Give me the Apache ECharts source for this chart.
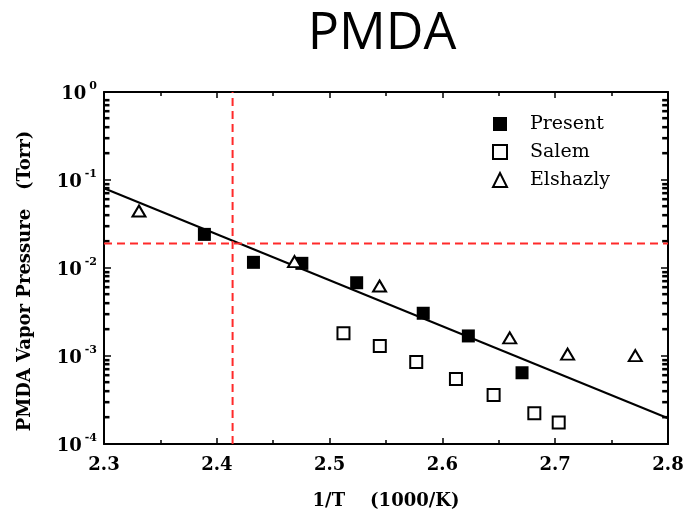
<!DOCTYPE html>
<html>
<head>
<meta charset="utf-8">
<script src="https://cdn.jsdelivr.net/npm/echarts@6/dist/echarts.min.js"></script>
<style>html,body{margin:0;padding:0;background:#fff}#c{width:687px;height:512px}</style>
</head>
<body>
<div id="c"></div>
<script>
const titleText = 'PMDA';
const xTicks = [2.3, 2.4, 2.5, 2.6, 2.7, 2.8];
const yTicks = [1e-4, 1e-3, 1e-2, 1e-1, 1];
const presentX = [2.389, 2.4325, 2.4754, 2.524, 2.583, 2.623, 2.6706];
const presentY = [0.0241, 0.0116, 0.0113, 0.0068, 0.00306, 0.00169, 0.000645];
const salemX = [2.5123, 2.5445, 2.5768, 2.612, 2.6454, 2.6815, 2.7031];
const salemY = [0.00181, 0.0013, 0.000855, 0.000548, 0.00036, 0.000223, 0.000175];
const elshazlyX = [2.331, 2.4689, 2.5443, 2.6597, 2.711, 2.771];
const elshazlyY = [0.0444, 0.0118, 0.00624, 0.00161, 0.00105, 0.00101];
const fitX = [2.3, 2.8];
const fitY = [0.0805, 0.000196];
const refX = 2.414;
const refY = 0.019;

const zip = (a, b) => a.map((v, i) => [v, b[i]]);
const minorLog = [];
for (let e = -4; e < 0; e++) for (let k = 2; k <= 9; k++) minorLog.push(e + Math.log10(k));

const serif = 'DejaVu Serif';
const chart = echarts.init(document.getElementById('c'));
const xBase = {
  type: 'value', min: 2.3, max: 2.8, interval: 0.1, gridIndex: 0,
  axisLine: { show: true, onZero: false, lineStyle: { color: '#000', width: 2 } },
  axisTick: { show: true, inside: true, length: 6, lineStyle: { color: '#000', width: 1.5 } },
  minorTick: { show: true, splitNumber: 2, length: 4, lineStyle: { color: '#000', width: 1.5 } },
  splitLine: { show: false }
};
const yLogBase = {
  type: 'log', min: 1e-4, max: 1, logBase: 10, gridIndex: 0,
  axisLine: { show: true, onZero: false, lineStyle: { color: '#000', width: 2 } },
  axisTick: { show: true, inside: true, length: 7, lineStyle: { color: '#000', width: 1.5 } },
  splitLine: { show: false }
};
// minor log ticks (2..9 per decade) on the y axes, drawn as small dash marks at the log positions
const minorLabel = {
  show: true, customValues: minorLog,
  formatter: () => '\u25AC', fontFamily: 'DejaVu Sans', fontSize: 7, color: '#000'
};
const yMinorBase = {
  type: 'value', min: -4, max: 0, interval: 1, gridIndex: 0,
  axisLine: { show: false, onZero: false },
  axisTick: { show: false },
  splitLine: { show: false }
};

chart.setOption({
  animation: false,
  backgroundColor: '#fff',
  title: {
    text: titleText, left: 377, top: 3, textAlign: 'center',
    textStyle: { fontFamily: 'Open Sans', fontWeight: 'normal', fontSize: 52, color: '#000' }
  },
  grid: { left: 104, right: 19, top: 92, bottom: 68, containLabel: false, outerBoundsMode: 'none' },
  legend: {
    orient: 'vertical', left: 487, top: 109, itemGap: 8, itemWidth: 14, itemHeight: 14,
    data: ['Present', 'Salem', 'Elshazly'],
    textStyle: { fontFamily: serif, fontSize: 19, color: '#000', lineHeight: 20, padding: [0, 0, 0, 18] }
  },
  xAxis: [
    Object.assign({}, xBase, {
      position: 'bottom',
      name: '1/T    (1000/K)', nameLocation: 'middle', nameGap: 48,
      nameTextStyle: { fontFamily: serif, fontWeight: 'bold', fontSize: 18, color: '#000' },
      axisLabel: {
        show: true, margin: 12, fontFamily: serif, fontWeight: 'bold', fontSize: 18, color: '#000',
        customValues: xTicks, formatter: v => v.toFixed(1)
      }
    }),
    Object.assign({}, xBase, { position: 'top', axisLabel: { show: false } })
  ],
  yAxis: [
    Object.assign({}, yLogBase, {
      position: 'left',
      name: 'PMDA Vapor Pressure   (Torr)', nameLocation: 'middle', nameGap: 70, nameRotate: 90,
      nameTextStyle: { fontFamily: serif, fontWeight: 'bold', fontSize: 18, color: '#000', padding: [0, 26, 0, 0] },
      axisLabel: {
        show: true, margin: 7,
        formatter: v => '{b|10}{s|' + Math.round(Math.log10(v)) + '}',
        rich: {
          b: { fontFamily: serif, fontWeight: 'bold', fontSize: 18, color: '#000', lineHeight: 22, verticalAlign: 'bottom' },
          s: { fontFamily: serif, fontWeight: 'bold', fontSize: 11, color: '#000', lineHeight: 22, verticalAlign: 'top', padding: [0, 0, 0, 3] }
        }
      }
    }),
    Object.assign({}, yLogBase, { position: 'right', axisLabel: { show: false } }),
    Object.assign({}, yMinorBase, { position: 'left', axisLabel: Object.assign({}, minorLabel, { inside: false, margin: -6 }) }),
    Object.assign({}, yMinorBase, { position: 'right', axisLabel: Object.assign({}, minorLabel, { inside: true, margin: 0 }) })
  ],
  series: [
    {
      name: 'fit', type: 'line', xAxisIndex: 0, yAxisIndex: 0, data: zip(fitX, fitY),
      showSymbol: false, symbol: 'none', lineStyle: { color: '#000', width: 2 }, z: 2
    },
    {
      name: 'refV', type: 'line', xAxisIndex: 0, yAxisIndex: 0, data: [[refX, 1e-4], [refX, 1]],
      showSymbol: false, symbol: 'none', lineStyle: { color: '#ff2a2a', width: 2, type: [8, 5] }, z: 3
    },
    {
      name: 'refH', type: 'line', xAxisIndex: 0, yAxisIndex: 0, data: [[2.3, refY], [2.8, refY]],
      showSymbol: false, symbol: 'none', lineStyle: { color: '#ff2a2a', width: 2, type: [8, 5] }, z: 3
    },
    {
      name: 'Present', type: 'scatter', xAxisIndex: 0, yAxisIndex: 0, data: zip(presentX, presentY),
      symbol: 'rect', symbolSize: 13, itemStyle: { color: '#000', borderColor: '#000', borderWidth: 0, opacity: 1 }, z: 4
    },
    {
      name: 'Salem', type: 'scatter', xAxisIndex: 0, yAxisIndex: 0, data: zip(salemX, salemY),
      symbol: 'rect', symbolSize: 12, itemStyle: { color: '#fff', borderColor: '#000', borderWidth: 2, opacity: 1 }, z: 4
    },
    {
      name: 'Elshazly', type: 'scatter', xAxisIndex: 0, yAxisIndex: 0, data: zip(elshazlyX, elshazlyY),
      symbol: 'triangle', symbolSize: [13, 11], itemStyle: { color: '#fff', borderColor: '#000', borderWidth: 2, opacity: 1 }, z: 4
    }
  ]
});
</script>
</body>
</html>
